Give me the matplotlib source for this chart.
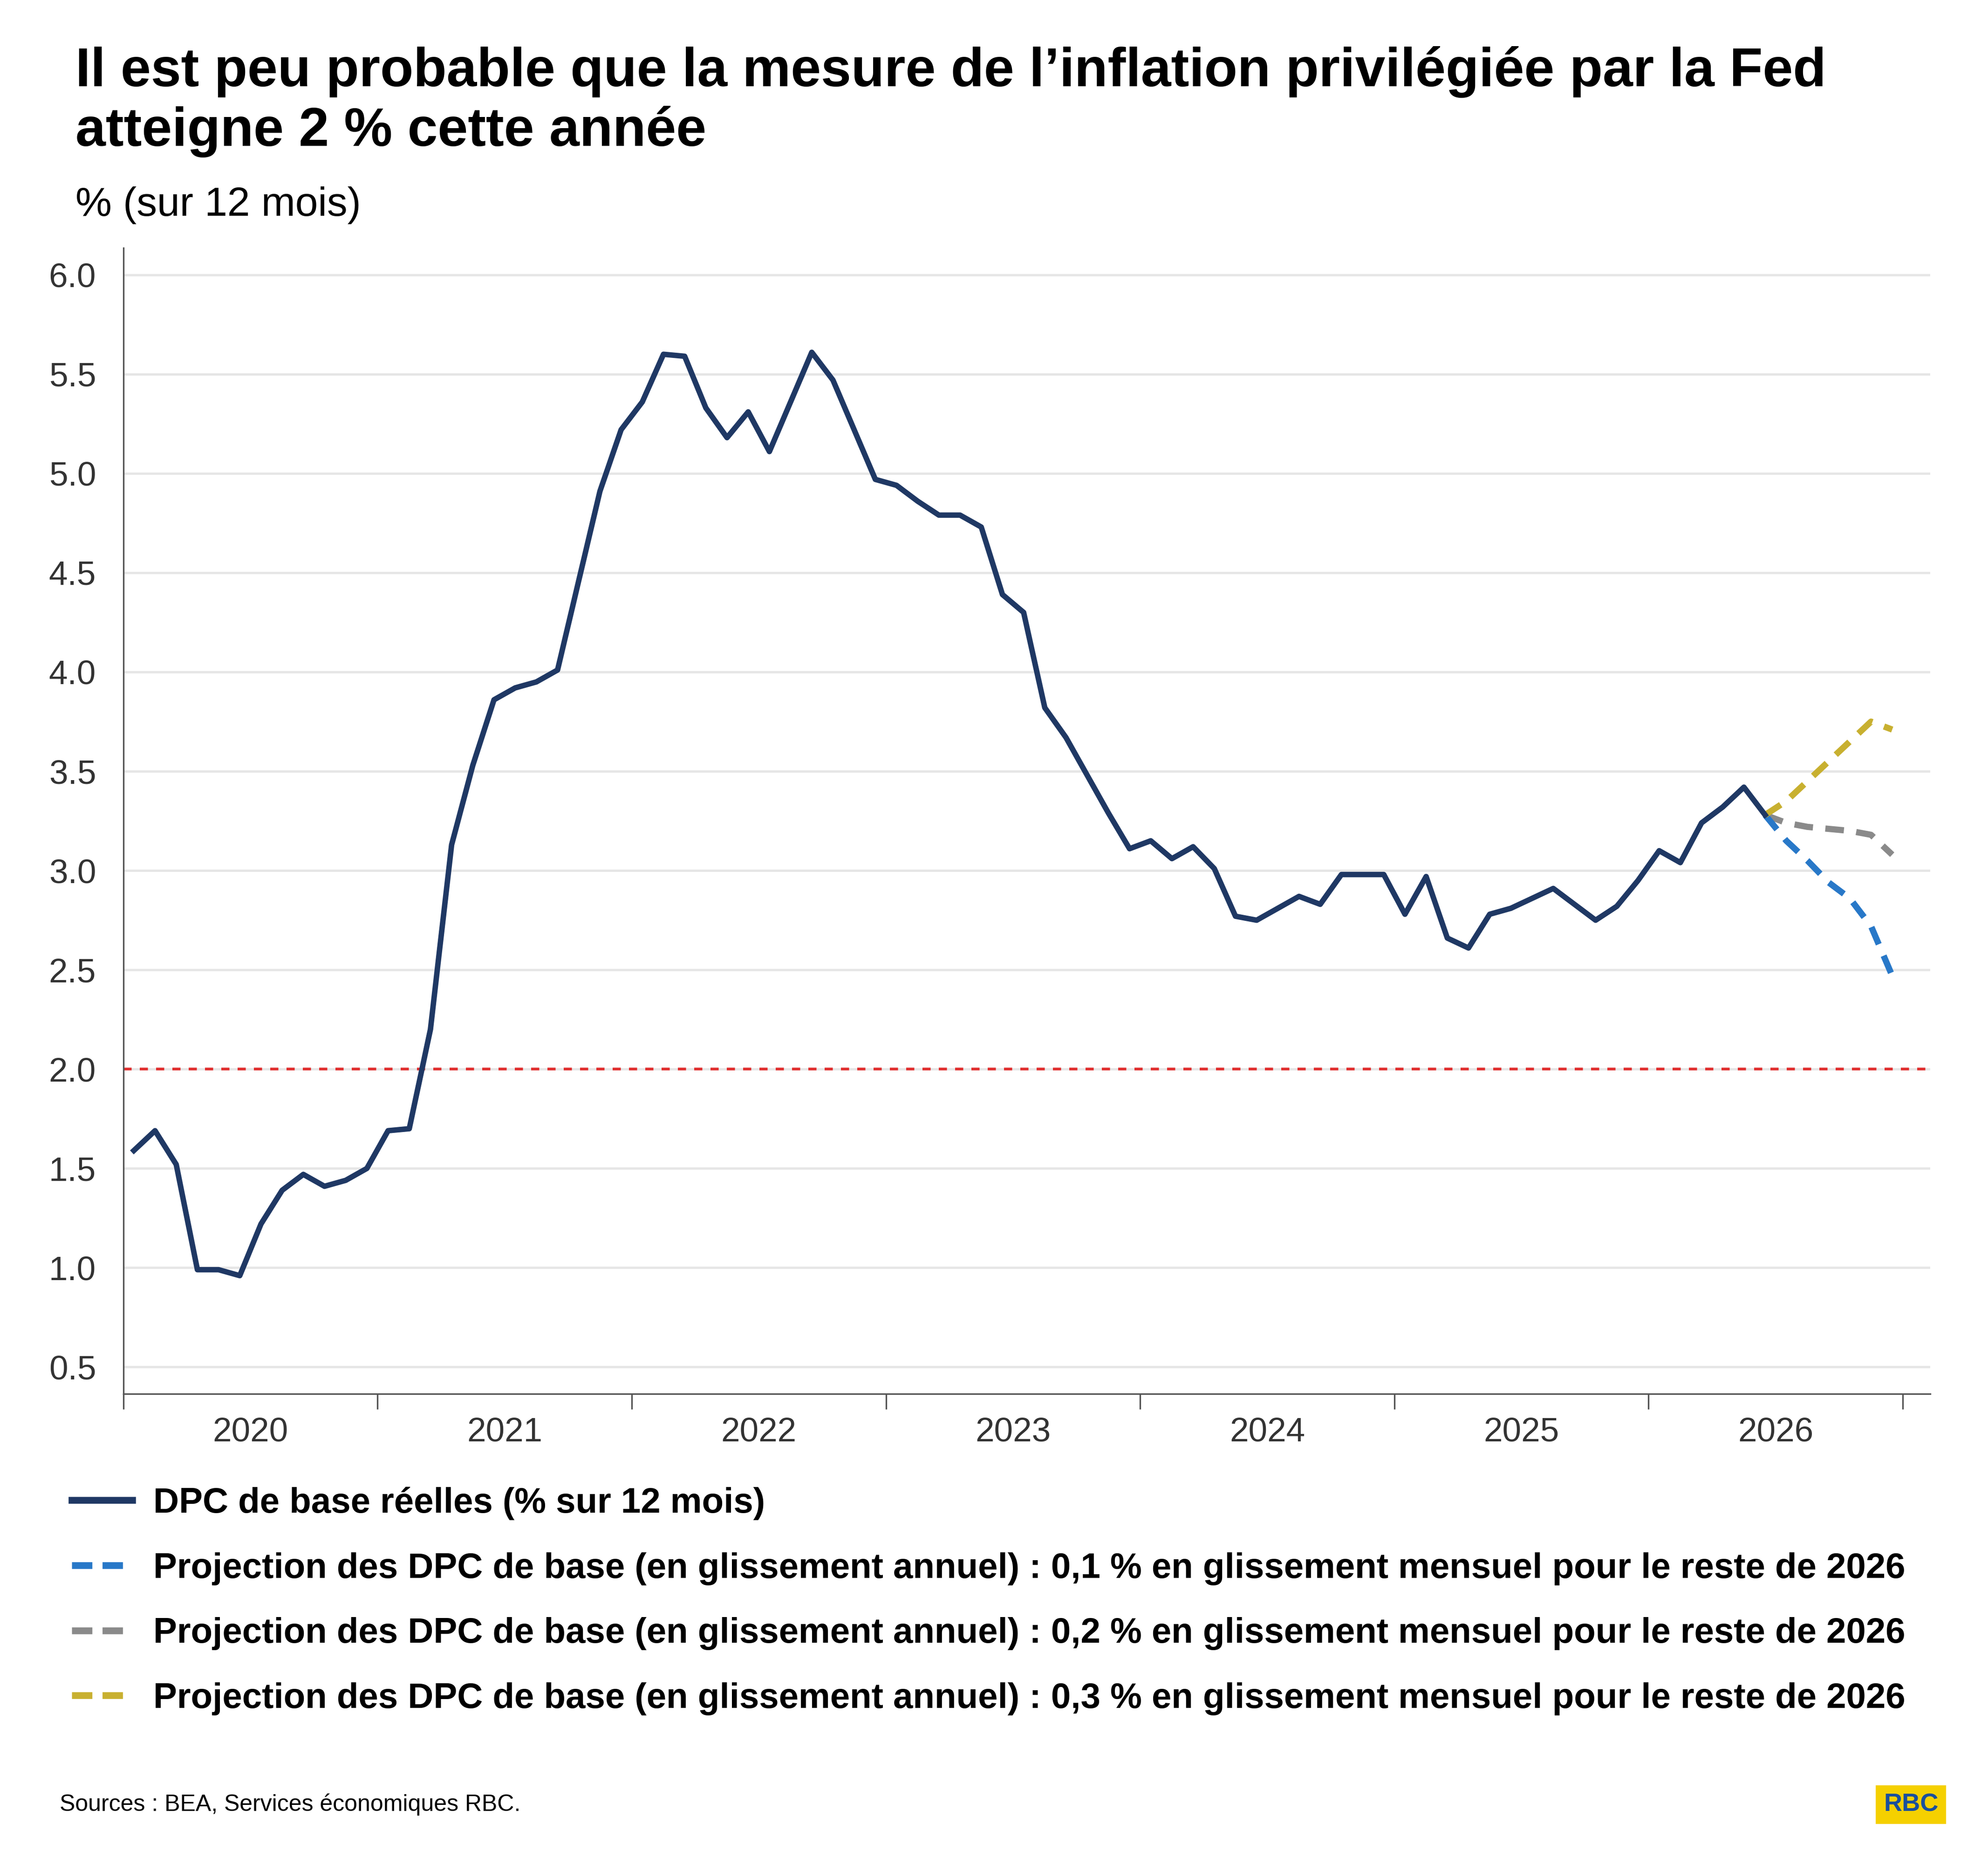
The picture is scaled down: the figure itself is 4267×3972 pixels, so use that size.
import numpy as np
import matplotlib.pyplot as plt
from matplotlib.lines import Line2D

plt.rcParams['font.family'] = ['Liberation Sans', 'DejaVu Sans']

# Core PCE, % y/y, monthly from Jan 2020
actual = [1.59, 1.69, 1.52, 0.99, 0.99, 0.96, 1.22, 1.39, 1.47, 1.41, 1.44, 1.50,
          1.69, 1.70, 2.20, 3.13, 3.53, 3.86, 3.92, 3.95, 4.01, 4.46, 4.91, 5.22,
          5.36, 5.60, 5.59, 5.33, 5.18, 5.31, 5.11, 5.36, 5.61, 5.47, 5.22, 4.97,
          4.94, 4.86, 4.79, 4.79, 4.73, 4.39, 4.30, 3.82, 3.67, 3.48, 3.29, 3.11,
          3.15, 3.06, 3.12, 3.01, 2.77, 2.75, 2.81, 2.87, 2.83, 2.98, 2.98, 2.98,
          2.78, 2.97, 2.66, 2.61, 2.78, 2.81, 2.86, 2.91, 2.83, 2.75, 2.82, 2.95,
          3.10, 3.04, 3.24, 3.32, 3.42, 3.28]
proj_01 = [3.28, 3.15, 3.05, 2.94, 2.86, 2.72, 2.47]
proj_02 = [3.28, 3.24, 3.22, 3.21, 3.20, 3.18, 3.08]
proj_03 = [3.28, 3.35, 3.45, 3.55, 3.65, 3.75, 3.71]
years = ['2020', '2021', '2022', '2023', '2024', '2025', '2026']
legend_labels = [
    'DPC de base réelles (% sur 12 mois)',
    'Projection des DPC de base (en glissement annuel) : 0,1 % en glissement mensuel pour le reste de 2026',
    'Projection des DPC de base (en glissement annuel) : 0,2 % en glissement mensuel pour le reste de 2026',
    'Projection des DPC de base (en glissement annuel) : 0,3 % en glissement mensuel pour le reste de 2026',
]

navy = '#1f3864'
blue = '#2878c8'
gray = '#8a8a8a'
gold = '#c8b030'

fig = plt.figure(figsize=(4267 / 300, 3972 / 300), dpi=300)
ax = fig.add_axes([0.062, 0.247, 0.909, 0.619])

x_act = np.arange(len(actual)) + 0.5
x_proj = np.arange(len(actual) - 1, len(actual) - 1 + len(proj_01)) + 0.5

ax.axhline(2.0, color='#e03030', lw=1.4, ls=(0, (3, 3)), zorder=2)
ax.plot(x_act, actual, color=navy, lw=2.8, zorder=4)
ax.plot(x_proj, proj_02, color=gray, lw=3.2, ls=(0, (3, 2)), zorder=3)
ax.plot(x_proj, proj_01, color=blue, lw=3.2, ls=(0, (3, 2)), zorder=3)
ax.plot(x_proj, proj_03, color=gold, lw=3.2, ls=(0, (3, 2)), zorder=3)

ax.set_xlim(0, 85.3)
ax.set_ylim(0.365, 6.135)
ax.set_yticks(np.arange(0.5, 6.01, 0.5))
ax.set_yticklabels([f'{v:.1f}' for v in np.arange(0.5, 6.01, 0.5)], fontsize=17.5, color='#333333')
ax.yaxis.grid(True, color='#e6e6e6', lw=1.2)
ax.set_axisbelow(True)
ax.tick_params(axis='y', length=0, pad=14)

ax.set_xticks(np.arange(0, 85, 12))
ax.set_xticklabels([])
ax.set_xticks(np.arange(6, 84, 12), minor=True)
ax.set_xticklabels(years, minor=True, fontsize=17.5, color='#333333')
ax.tick_params(axis='x', which='major', length=8, color='#555555')
ax.tick_params(axis='x', which='minor', length=0, pad=12)
for s in ['top', 'right']:
    ax.spines[s].set_visible(False)
ax.spines['left'].set_color('#555555')
ax.spines['bottom'].set_color('#555555')

fig.text(0.038, 0.975, "Il est peu probable que la mesure de l’inflation privilégiée par la Fed\natteigne 2 % cette année",
         fontsize=28, fontweight='bold', va='top', linespacing=1.2)
fig.text(0.038, 0.889, '% (sur 12 mois)', fontsize=21, va='center')

handles = [Line2D([], [], color=c, lw=3.5, ls=ls) for c, ls in
           [(navy, '-'), (blue, (0, (3, 1.5))), (gray, (0, (3, 1.5))), (gold, (0, (3, 1.5)))]]
fig.legend(handles, legend_labels, loc='upper left', bbox_to_anchor=(0.02, 0.214),
           frameon=False, prop={'size': 18.3, 'weight': 'bold'}, handlelength=1.7,
           labelspacing=0.9, handletextpad=0.6)

fig.text(0.03, 0.025, 'Sources : BEA, Services économiques RBC.', fontsize=12, va='center')
fig.text(0.975, 0.025, 'RBC', fontsize=13, fontweight='bold', color='#1a4f9c', ha='right', va='center',
         bbox=dict(facecolor='#f5d000', edgecolor='none', pad=4))

fig.savefig('out.png', dpi=300)
